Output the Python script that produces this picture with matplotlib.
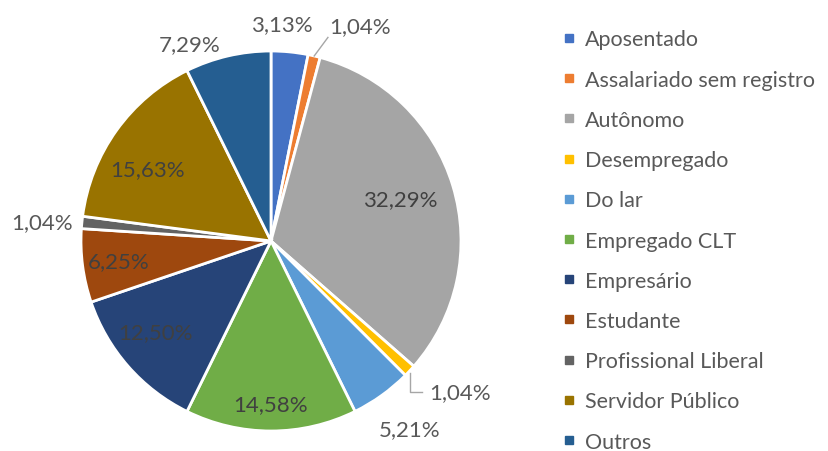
import numpy as np
import matplotlib
matplotlib.use("Agg")
import matplotlib.pyplot as plt
from matplotlib.lines import Line2D

# =========================
# DATA
# =========================

categories = [
    "Aposentado", "Assalariado sem registro", "Autônomo", "Desempregado",
    "Do lar", "Empregado CLT", "Empresário", "Estudante",
    "Profissional Liberal", "Servidor Público", "Outros",
]
values = [3.13, 1.04, 32.29, 1.04, 5.21, 14.58, 12.50, 6.25, 1.04, 15.63, 7.29]
colors = [
    "#4472C4", "#ED7D31", "#A5A5A5", "#FFC000", "#5B9BD5", "#70AD47",
    "#264478", "#9E480E", "#636363", "#997300", "#255E91",
]

# label placement (radius factor, angle nudge in degrees)
label_r = [1.144, 1.225, 0.714, 1.273, 1.23, 0.858, 0.775, 0.807, 1.209, 0.753, 1.12]
label_nudge = [2.7, -9.4, 1.0, 4.5, 0.9, 0.0, -3.1, 0.0, 0.9, 5.5, 9.3]
leader = [False, True, False, True, False, False, False, False, False, False, False]

TEXT = "#595959"
TEXT_IN = "#404040"
FONT = "Lato"
FS = 16
FS_LEG = 15.5

fig = plt.figure(figsize=(8.29, 4.52), dpi=100)

# pie centred at (271, 242) px, radius 190 px
cx, cy, rad = 271, 242, 190
W, H = 829, 452
ax = fig.add_axes([(cx - rad) / W, (H - cy - rad) / H, 2 * rad / W, 2 * rad / H])

wedges, _ = ax.pie(
    values,
    colors=colors,
    startangle=90,
    counterclock=False,
    radius=1.0,
    wedgeprops=dict(edgecolor="white", linewidth=2),
)
ax.set_xlim(-1, 1)
ax.set_ylim(-1, 1)
ax.set_aspect("equal")
ax.axis("off")

# =========================
# DATA LABELS
# =========================

cum = np.cumsum([0] + values)
for i, v in enumerate(values):
    mid = 90 - 3.6 * (cum[i] + cum[i + 1]) / 2
    ang = np.deg2rad(mid + label_nudge[i])
    tx, ty = label_r[i] * np.cos(ang), label_r[i] * np.sin(ang)
    txt = f"{v:.2f}%".replace(".", ",")
    col = TEXT_IN if label_r[i] < 1 else TEXT
    ax.text(tx, ty, txt, ha="center", va="center", fontsize=FS,
            color=col, family=FONT, clip_on=False)
    if leader[i]:
        ex, ey = np.cos(np.deg2rad(mid)), np.sin(np.deg2rad(mid))
        if ty > 0:
            ax.plot([ex, tx - 0.17], [ey, ty - 0.06], color="#A6A6A6",
                    lw=1, clip_on=False)
        else:
            ax.plot([ex, ex, tx - 0.2], [ey - 0.01, ty, ty],
                    color="#A6A6A6", lw=1, clip_on=False)

# =========================
# LEGEND
# =========================

handles = [
    Line2D([0], [0], marker="s", color="none", markerfacecolor=c,
           markeredgecolor=c, markersize=6)
    for c in colors
]
fig.legend(
    handles, categories,
    loc="upper left",
    bbox_to_anchor=(543 / W, 1 - 11 / H),
    frameon=False,
    handlelength=0.6,
    handletextpad=0.45,
    labelspacing=0.94,
    prop={"family": FONT, "size": FS_LEG},
    labelcolor=TEXT,
)

fig.savefig("out.png", dpi=100, facecolor="white")
